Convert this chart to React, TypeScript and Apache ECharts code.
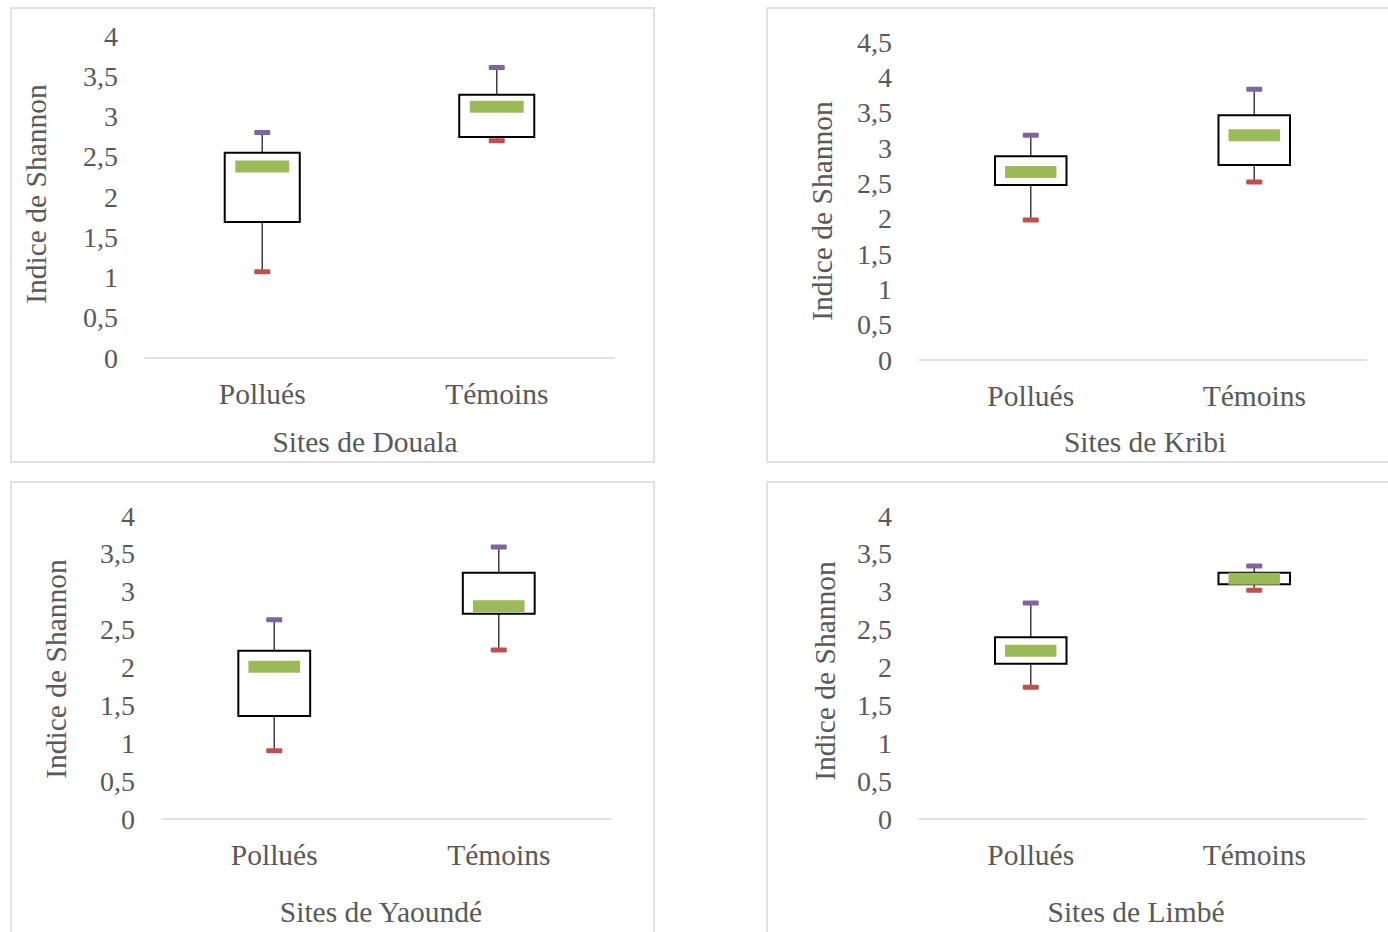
import React, { useEffect, useRef } from "react";
import * as echarts from "echarts";

// Categories and five-number summaries [min, Q1, median, Q3, max]
const categories = ["Pollués", "Témoins"];
const doualaBox = [
  [1.07, 1.69, 2.38, 2.55, 2.8],
  [2.7, 2.745, 3.12, 3.27, 3.61],
];
const kribiBox = [
  [1.98, 2.475, 2.66, 2.885, 3.18],
  [2.52, 2.76, 3.18, 3.465, 3.83],
];
const yaoundeBox = [
  [0.9, 1.36, 2.01, 2.22, 2.63],
  [2.23, 2.71, 2.81, 3.25, 3.59],
];
const limbeBox = [
  [1.74, 2.05, 2.22, 2.4, 2.85],
  [3.02, 3.1, 3.17, 3.25, 3.34],
];
const panelTitles = ["Sites de Douala", "Sites de Kribi", "Sites de Yaoundé", "Sites de Limbé"];
const yAxisTitle = "Indice de Shannon";
const yMax = [4, 4.5, 4, 4];

const FONT = "'Liberation Serif', 'Times New Roman', serif";
const TEXT = "#595959";

export default function App() {
  const ref = useRef<HTMLDivElement>(null);

  useEffect(() => {
    if (!ref.current) return;
    const chart = echarts.init(ref.current, null, { renderer: "svg" });

    const boxes = [doualaBox, kribiBox, yaoundeBox, limbeBox];
    const grids = [
      { left: 145, top: 36, width: 469, height: 322 },
      { left: 919, top: 42, width: 447, height: 318 },
      { left: 162, top: 516, width: 449, height: 303 },
      { left: 919, top: 516, width: 447, height: 303 },
    ];

    const renderItem = (params: any, api: any) => {
      const c = api.value(0);
      const pt = (v: number) => api.coord([c, v]);
      const [x, yMinP] = pt(api.value(1));
      const yQ1 = pt(api.value(2))[1];
      const yMed = pt(api.value(3))[1];
      const yQ3 = pt(api.value(4))[1];
      const yMaxP = pt(api.value(5))[1];
      const band = api.size([1, 0])[0];
      const bw = band * 0.32;
      const mw = band * 0.23;
      return {
        type: "group",
        children: [
          { type: "line", shape: { x1: x, y1: yMaxP, x2: x, y2: yMinP }, style: { stroke: "#404040", lineWidth: 1.5 } },
          { type: "rect", shape: { x: x - 8, y: yMaxP - 2.5, width: 16, height: 5, r: 1 }, style: { fill: "#8064A2" } },
          { type: "rect", shape: { x: x - 8, y: yMinP - 2.5, width: 16, height: 5, r: 1 }, style: { fill: "#C0504D" } },
          { type: "rect", shape: { x: x - bw / 2, y: yQ3, width: bw, height: yQ1 - yQ3 }, style: { fill: "#ffffff", stroke: "#000000", lineWidth: 2 } },
          { type: "rect", shape: { x: x - mw / 2, y: yMed - 6, width: mw, height: 12 }, style: { fill: "#9BBB59" } },
        ],
      };
    };

    const option: any = {
      animation: false,
      backgroundColor: "#ffffff",
      grid: grids,
      xAxis: grids.map((_, i) => ({
        type: "category",
        gridIndex: i,
        data: categories,
        axisLine: { show: true, lineStyle: { color: "#d9d9d9", width: 1.5 } },
        axisTick: { show: false },
        axisLabel: { color: TEXT, fontFamily: FONT, fontSize: 29.5, margin: 21 },
        splitLine: { show: false },
      })),
      yAxis: grids.map((_, i) => ({
        type: "value",
        gridIndex: i,
        min: 0,
        max: yMax[i],
        interval: 0.5,
        axisLine: { show: false },
        axisTick: { show: false },
        splitLine: { show: false },
        axisLabel: {
          color: TEXT,
          fontFamily: FONT,
          fontSize: 28,
          margin: 27,
          formatter: (v: number) => String(v).replace(".", ","),
        },
      })),
      series: boxes.map((b, i) => ({
        type: "custom",
        xAxisIndex: i,
        yAxisIndex: i,
        renderItem,
        encode: { x: 0, y: [1, 2, 3, 4, 5] },
        data: b.map((row, k) => [k, ...row]),
      })),
      graphic: [
        { type: "rect", shape: { x: 11, y: 8, width: 643, height: 454 }, style: { fill: "none", stroke: "#d9d9d9", lineWidth: 1.5 } },
        { type: "rect", shape: { x: 767, y: 8, width: 640, height: 454 }, style: { fill: "none", stroke: "#d9d9d9", lineWidth: 1.5 } },
        { type: "rect", shape: { x: 11, y: 482, width: 643, height: 470 }, style: { fill: "none", stroke: "#d9d9d9", lineWidth: 1.5 } },
        { type: "rect", shape: { x: 767, y: 482, width: 640, height: 470 }, style: { fill: "none", stroke: "#d9d9d9", lineWidth: 1.5 } },
        ...[
          [365, 442],
          [1145, 442],
          [381, 912],
          [1136, 912],
        ].map(([x, y], i) => ({
          type: "text",
          x,
          y,
          style: { text: panelTitles[i], font: `29.5px ${FONT}`, fill: TEXT, align: "center", verticalAlign: "middle" },
        })),
        ...[
          [36, 194],
          [822, 211],
          [56, 669],
          [825, 671],
        ].map(([x, y]) => ({
          type: "text",
          x,
          y,
          rotation: Math.PI / 2,
          style: { text: yAxisTitle, font: `29.5px ${FONT}`, fill: TEXT, align: "center", verticalAlign: "middle" },
        })),
      ],
    };

    chart.setOption(option);
    return () => chart.dispose();
  }, []);

  return (
    <div
      ref={ref}
      style={{ position: "fixed", left: 0, top: 0, width: 1388, height: 932, background: "#fff" }}
    />
  );
}
